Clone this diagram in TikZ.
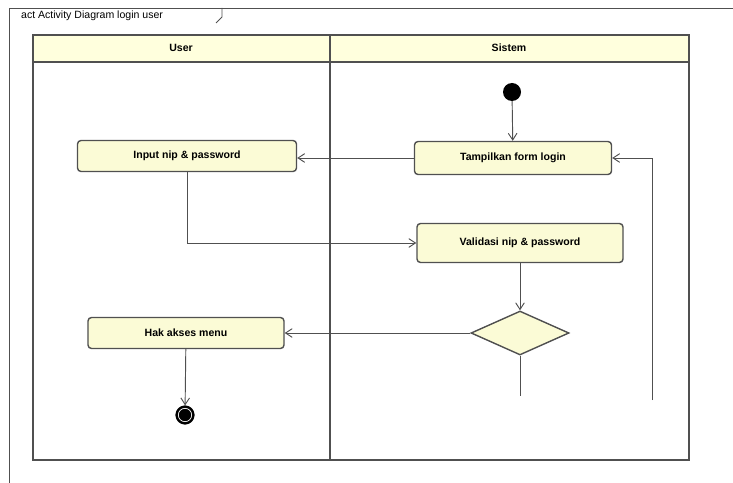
\documentclass[tikz,border=0pt]{standalone}
\usepackage{fontspec}
\setmainfont{Liberation Sans}
\usetikzlibrary{arrows.meta,shapes.geometric}
\definecolor{lanefill}{HTML}{FFFFDD}
\definecolor{actfill}{HTML}{FBFBD6}
\definecolor{edgegray}{HTML}{505050}

\begin{document}
\begin{tikzpicture}[x=0.03cm, y=-0.03cm, >={Straight Barb[length=2mm,width=2.6mm]},
    act/.style={draw=edgegray, very thick, fill=actfill, rounded corners=3pt, font=\fontsize{9}{11}\selectfont\bfseries},
    flow/.style={->, draw=edgegray, thick}]
    \useasboundingbox (0,0) rectangle (733,483);
    % frame and swimlanes
    \draw[edgegray, thick] (733,8) -- (9,8) -- (9,483);
    \draw[edgegray, thick] (222,8) -- (222,17) -- (216,23);
    \node[anchor=west, font=\fontsize{9}{11}\selectfont] (title) at (17,16) {act Activity Diagram login user};
    \fill[lanefill] (33,35) rectangle (689,62);
    \draw[edgegray, very thick] (33,35) rectangle (689,460);
    \draw[edgegray, very thick] (33,62) -- (689,62);
    \draw[edgegray, very thick] (330,35) -- (330,460);
    \node[font=\fontsize{9}{11}\selectfont\bfseries] (User) at (181,48) {User};
    \node[font=\fontsize{9}{11}\selectfont\bfseries] (Sistem) at (509,48) {Sistem};

    % activities
    \node (start) at (512,92) [fill=black, circle, minimum size=0.54cm, inner sep=0pt] {};
    \node (tampil) at (513,158) [act, minimum width=5.91cm, minimum height=0.99cm] {Tampilkan form login};
    \node (input) at (187,156) [act, minimum width=6.57cm, minimum height=0.93cm] {Input nip \& password};
    \node (validasi) at (520,243) [act, minimum width=6.18cm, minimum height=1.17cm] {Validasi nip \& password};
    \node (cek) at (520,333) [diamond, draw=edgegray, very thick, fill=actfill, minimum width=2.94cm, minimum height=1.32cm, inner sep=0pt] {};
    \node (hakakses) at (186,333) [act, minimum width=5.88cm, minimum height=0.93cm] {Hak akses menu};
    \node (finish) at (185,415) [circle, draw=black, fill=black, minimum size=0.56cm, inner sep=0pt,
      path picture={\draw[white, line width=0.6pt] (path picture bounding box.center) circle (0.2cm);}] {};
    \coordinate (cekbawah) at (520,396);
    \coordinate (balik) at (652,400);

    % flows
    \draw[flow] (start) -- (tampil);
    \draw[flow] (tampil.west) -- (tampil.west -| input.east);
    \draw[flow] (input) |- (validasi);
    \draw[flow] (validasi) -- (cek);
    \draw[flow] (cek) -- (hakakses);
    \draw[flow] (hakakses) -- (finish);
    \draw[edgegray, thick] (cek) -- (cekbawah);
    \draw[flow] (balik) |- (tampil);
\end{tikzpicture}
\end{document}
